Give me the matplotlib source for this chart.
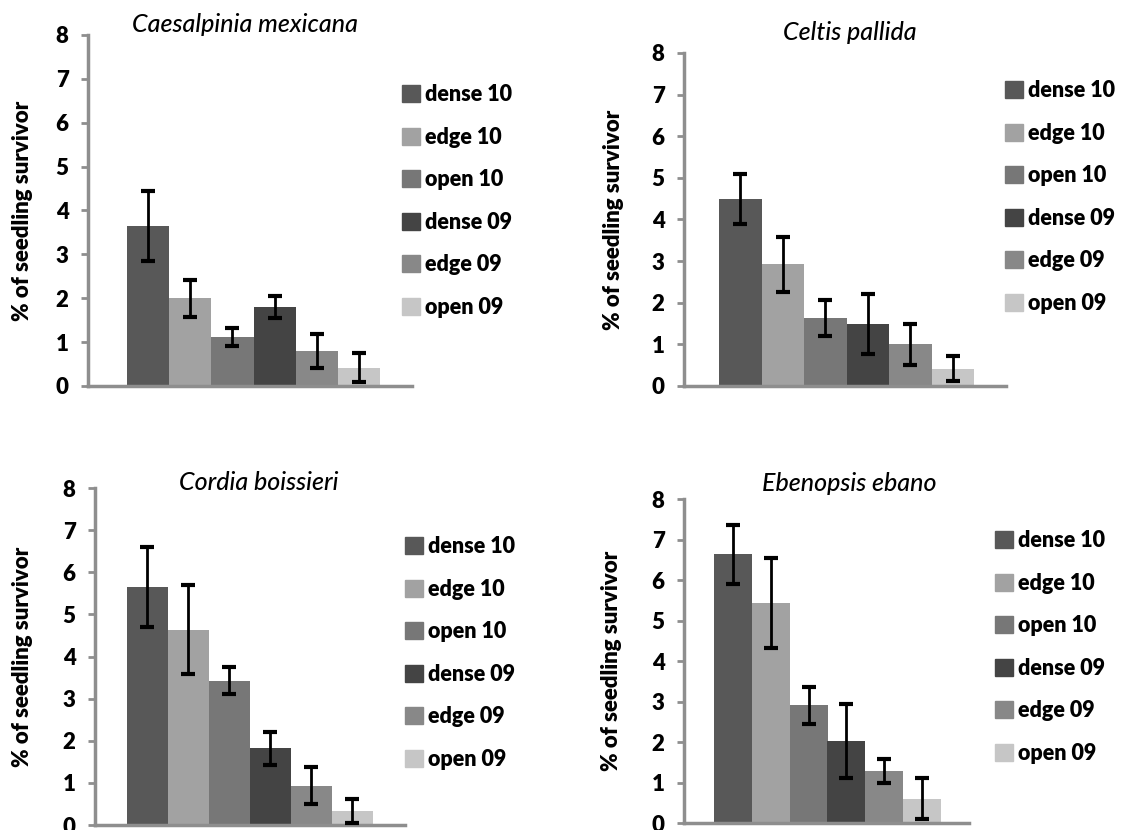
import matplotlib
matplotlib.use("Agg")
import matplotlib.pyplot as plt
import numpy as np

# ---- data ----
categories = ["dense 10", "edge 10", "open 10", "dense 09", "edge 09", "open 09"]
titles = ["Caesalpinia mexicana", "Celtis pallida", "Cordia boissieri", "Ebenopsis ebano"]
caesalpinia_vals = [3.65, 2.0, 1.12, 1.8, 0.8, 0.42]
caesalpinia_err = [0.8, 0.42, 0.2, 0.25, 0.39, 0.33]
celtis_vals = [4.5, 2.92, 1.63, 1.5, 1.0, 0.42]
celtis_err = [0.6, 0.67, 0.43, 0.72, 0.49, 0.31]
cordia_vals = [5.65, 4.64, 3.42, 1.82, 0.93, 0.33]
cordia_err = [0.96, 1.06, 0.32, 0.39, 0.44, 0.28]
ebenopsis_vals = [6.63, 5.43, 2.91, 2.02, 1.29, 0.6]
ebenopsis_err = [0.72, 1.11, 0.46, 0.92, 0.3, 0.5]
yticks = [0, 1, 2, 3, 4, 5, 6, 7, 8]
ylabel = "% of seedling survivor"

colors = ["#585858", "#a2a2a2", "#777777", "#444444", "#888888", "#c6c6c6"]

W, H = 1126, 830
fig = plt.figure(figsize=(W / 100, H / 100), dpi=100)
plt.rcParams['font.family'] = ['Lato', 'DejaVu Sans']

# layout in pixels: axis left, axis right, y of 0, y of 8, bar left, bar right,
# ylabel right edge x, title x, title y, legend patch x, legend middle y
layouts = [
    dict(al=88, ar=412, y0=386, y8=35, bl=127, br=380, lx=33, tx=245, ty=25, gx=402, gy=201),
    dict(al=684, ar=1006, y0=386, y8=53, bl=719, br=974, lx=624, tx=850, ty=32, gx=1005, gy=197),
    dict(al=95, ar=405, y0=825, y8=488, bl=127, br=373, lx=33, tx=259, ty=482, gx=405, gy=653),
    dict(al=684, ar=969, y0=823, y8=499, bl=714, br=941, lx=622, tx=849, ty=483, gx=995, gy=647),
]
vals_all = [caesalpinia_vals, celtis_vals, cordia_vals, ebenopsis_vals]
errs_all = [caesalpinia_err, celtis_err, cordia_err, ebenopsis_err]
axis_gray = "#8e8e8e"

for k in range(4):
    L = layouts[k]
    ax = fig.add_axes([L['al'] / W, 1 - L['y0'] / H, (L['ar'] - L['al']) / W, (L['y0'] - L['y8']) / H])
    n = len(categories)
    x = np.arange(n)
    unit = (L['br'] - L['bl']) / n
    ax.set_xlim(-0.5 - (L['bl'] - L['al']) / unit, n - 0.5 + (L['ar'] - L['br']) / unit)
    ax.set_ylim(0, 8)
    ax.bar(x, vals_all[k], width=1.0, color=colors, edgecolor='none', zorder=2)
    ax.errorbar(x, vals_all[k], yerr=errs_all[k], fmt='none', ecolor='black',
                elinewidth=2, capsize=4.7, capthick=3, zorder=3)
    for s in ['top', 'right']:
        ax.spines[s].set_visible(False)
    for s in ['left', 'bottom']:
        ax.spines[s].set_color(axis_gray)
        ax.spines[s].set_linewidth(2.5)
    ax.set_xticks([])
    ax.set_yticks(yticks)
    ax.tick_params(axis='y', direction='out', length=5, width=2, color=axis_gray,
                   labelsize=16, pad=9)
    for t in ax.get_yticklabels():
        t.set_fontweight('heavy')
    ax.set_ylabel(ylabel, fontsize=16, fontweight='heavy')
    ax.yaxis.set_label_coords((L['lx'] - L['al']) / (L['ar'] - L['al']), 0.5)
    fig.text(L['tx'] / W, 1 - L['ty'] / H, titles[k], fontsize=18, style='italic',
             fontweight='medium', ha='center', va='center')
    handles = [plt.Rectangle((0, 0), 1, 1, color=c) for c in colors]
    leg = fig.legend(handles, categories, loc='center left',
                     bbox_to_anchor=(L['gx'] / W, 1 - L['gy'] / H),
                     frameon=False, fontsize=15.5, handlelength=0.85, handleheight=0.85,
                     handletextpad=0.2, labelspacing=1.0, borderpad=0, borderaxespad=0)
    for t in leg.get_texts():
        t.set_fontweight('heavy')

fig.savefig("out.png", dpi=100)
